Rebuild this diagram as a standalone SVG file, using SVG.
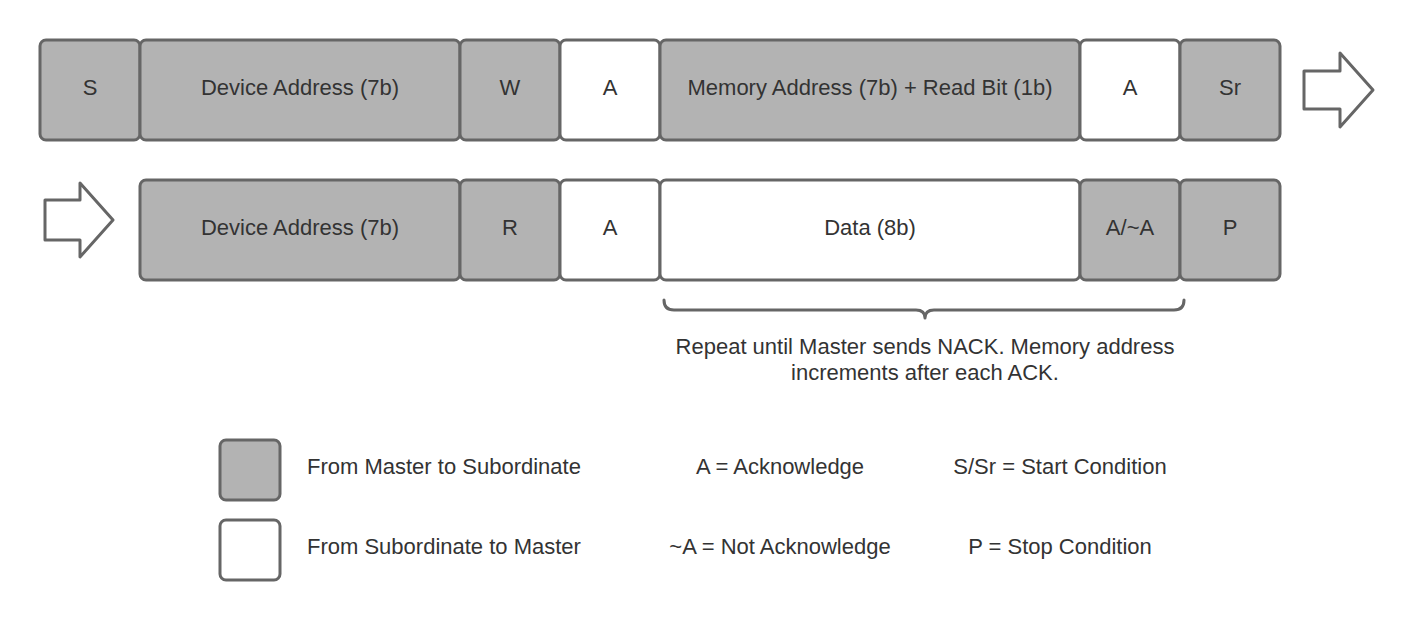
<svg xmlns="http://www.w3.org/2000/svg" width="1415" height="620" viewBox="0 0 1415 620">
<style>
  .m { fill: #b3b3b3; stroke: #666666; stroke-width: 3; }
  .s { fill: #ffffff; stroke: #666666; stroke-width: 3; }
  .t { font-family: "Liberation Sans", Arial, sans-serif; font-size: 22px; fill: #333333; text-anchor: middle; }
  .l { font-family: "Liberation Sans", Arial, sans-serif; font-size: 22px; fill: #333333; }
  .arrow { fill: #ffffff; stroke: #666666; stroke-width: 3; stroke-linejoin: round; }
  .brace { fill: none; stroke: #666666; stroke-width: 3; stroke-linecap: round; stroke-linejoin: round; }
</style>
<rect width="1415" height="620" fill="#ffffff"/>

<g id="row1">
  <g id="r1-s"><rect class="m" x="40" y="40" width="100" height="100" rx="6"/><text class="t" x="90" y="95">S</text></g>
  <g id="r1-dev"><rect class="m" x="140" y="40" width="320" height="100" rx="6"/><text class="t" x="300" y="95">Device Address (7b)</text></g>
  <g id="r1-w"><rect class="m" x="460" y="40" width="100" height="100" rx="6"/><text class="t" x="510" y="95">W</text></g>
  <g id="r1-a1"><rect class="s" x="560" y="40" width="100" height="100" rx="6"/><text class="t" x="610" y="95">A</text></g>
  <g id="r1-mem"><rect class="m" x="660" y="40" width="420" height="100" rx="6"/><text class="t" x="870" y="95">Memory Address (7b) + Read Bit (1b)</text></g>
  <g id="r1-a2"><rect class="s" x="1080" y="40" width="100" height="100" rx="6"/><text class="t" x="1130" y="95">A</text></g>
  <g id="r1-sr"><rect class="m" x="1180" y="40" width="100" height="100" rx="6"/><text class="t" x="1230" y="95">Sr</text></g>
</g>

<g id="row2">
  <g id="r2-dev"><rect class="m" x="140" y="180" width="320" height="100" rx="6"/><text class="t" x="300" y="235">Device Address (7b)</text></g>
  <g id="r2-r"><rect class="m" x="460" y="180" width="100" height="100" rx="6"/><text class="t" x="510" y="235">R</text></g>
  <g id="r2-a"><rect class="s" x="560" y="180" width="100" height="100" rx="6"/><text class="t" x="610" y="235">A</text></g>
  <g id="r2-data"><rect class="s" x="660" y="180" width="420" height="100" rx="6"/><text class="t" x="870" y="235">Data (8b)</text></g>
  <g id="r2-ack"><rect class="m" x="1080" y="180" width="100" height="100" rx="6"/><text class="t" x="1130" y="235">A/~A</text></g>
  <g id="r2-p"><rect class="m" x="1180" y="180" width="100" height="100" rx="6"/><text class="t" x="1230" y="235">P</text></g>
</g>

<g id="connectors">
  <path id="arrow-out" class="arrow" d="M1304,71 L1340,71 L1340,53 L1373,90 L1340,127 L1340,109 L1304,109 Z"/>
  <path id="arrow-in" class="arrow" d="M45,200 L80,200 L80,183 L113,220 L80,257 L80,240 L45,240 Z"/>
  <path id="brace" class="brace" d="M664,300 Q664,310 674,310 L916,310 Q925,310 925,318 Q925,310 934,310 L1174,310 Q1184,310 1184,300"/>
</g>

<g id="note">
  <text class="t" x="925" y="354">Repeat until Master sends NACK. Memory address</text>
  <text class="t" x="925" y="380">increments after each ACK.</text>
</g>

<g id="legend">
  <g id="legend-master"><rect class="m" x="220" y="440" width="60" height="60" rx="6"/><text class="l" x="307" y="474">From Master to Subordinate</text></g>
  <g id="legend-sub"><rect class="s" x="220" y="520" width="60" height="60" rx="6"/><text class="l" x="307" y="554">From Subordinate to Master</text></g>
  <text class="t" x="780" y="474">A = Acknowledge</text>
  <text class="t" x="780" y="554">~A = Not Acknowledge</text>
  <text class="t" x="1060" y="474">S/Sr = Start Condition</text>
  <text class="t" x="1060" y="554">P = Stop Condition</text>
</g>
</svg>
